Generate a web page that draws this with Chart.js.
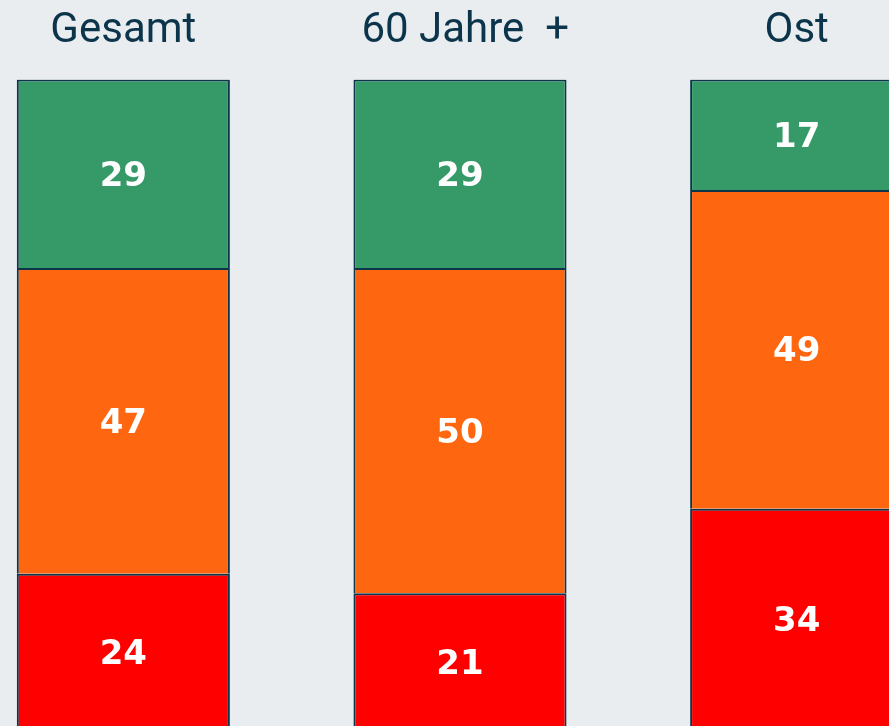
<!DOCTYPE html>
<html>
<head>
<meta charset="utf-8">
<script src="https://cdn.jsdelivr.net/npm/chart.js@4/dist/chart.umd.min.js"></script>
<style>
    html, body { margin: 0; padding: 0; overflow: hidden; background: #e9edef; }
    body { width: 889px; height: 726px; position: relative; }
    #chart { position: absolute; left: -45px; top: -24px; }
</style>
</head>
<body>
<canvas id="chart" width="1010" height="764"></canvas>
<script>
// categories and values (percent)
var categories = ['Gesamt', ' 60 Jahre  +', 'Ost'];
var schlecht = [24, 21, 34];
var mittel = [47, 50, 49];
var gut = [29, 29, 17];

var navy = '#0c354c';

// white value labels in the middle of every segment
var segmentLabels = {
    id: 'segmentLabels',
    afterDatasetsDraw: function (chart) {
        var ctx = chart.ctx;
        ctx.save();
        ctx.fillStyle = '#ffffff';
        ctx.font = 'bold 34px "DejaVu Sans", sans-serif';
        ctx.textAlign = 'center';
        ctx.textBaseline = 'middle';
        chart.data.datasets.forEach(function (ds, i) {
            var meta = chart.getDatasetMeta(i);
            meta.data.forEach(function (bar, j) {
                // small nudge, DejaVu digits sit a little high at 'middle'
                var y = (bar.y + bar.base) / 2 + 3;
                ctx.fillText(String(ds.data[j]), bar.x, y);
            });
        });
        ctx.restore();
    }
};

new Chart(document.getElementById('chart').getContext('2d'), {
    type: 'bar',
    data: {
        labels: categories,
        datasets: [
            { label: 'schlecht', data: schlecht, backgroundColor: '#ff0000' },
            { label: 'mittel', data: mittel, backgroundColor: '#ff6610' },
            { label: 'gut', data: gut, backgroundColor: '#359a68' }
        ]
    },
    options: {
        responsive: false,
        animation: false,
        layout: { padding: { top: 7, bottom: 10, left: 0, right: 0 } },
        datasets: {
            bar: {
                borderColor: navy,
                borderWidth: 2,
                categoryPercentage: 1,
                barPercentage: 0.633
            }
        },
        plugins: {
            legend: { display: false },
            tooltip: { enabled: false }
        },
        scales: {
            x: {
                stacked: true,
                position: 'top',
                grid: { display: false, drawTicks: false },
                border: { display: false },
                ticks: {
                    color: navy,
                    padding: 23,
                    font: { family: 'Roboto', size: 42 }
                }
            },
            y: {
                stacked: true,
                display: false,
                min: 0,
                max: 100
            }
        }
    },
    plugins: [segmentLabels]
});
</script>
</body>
</html>
